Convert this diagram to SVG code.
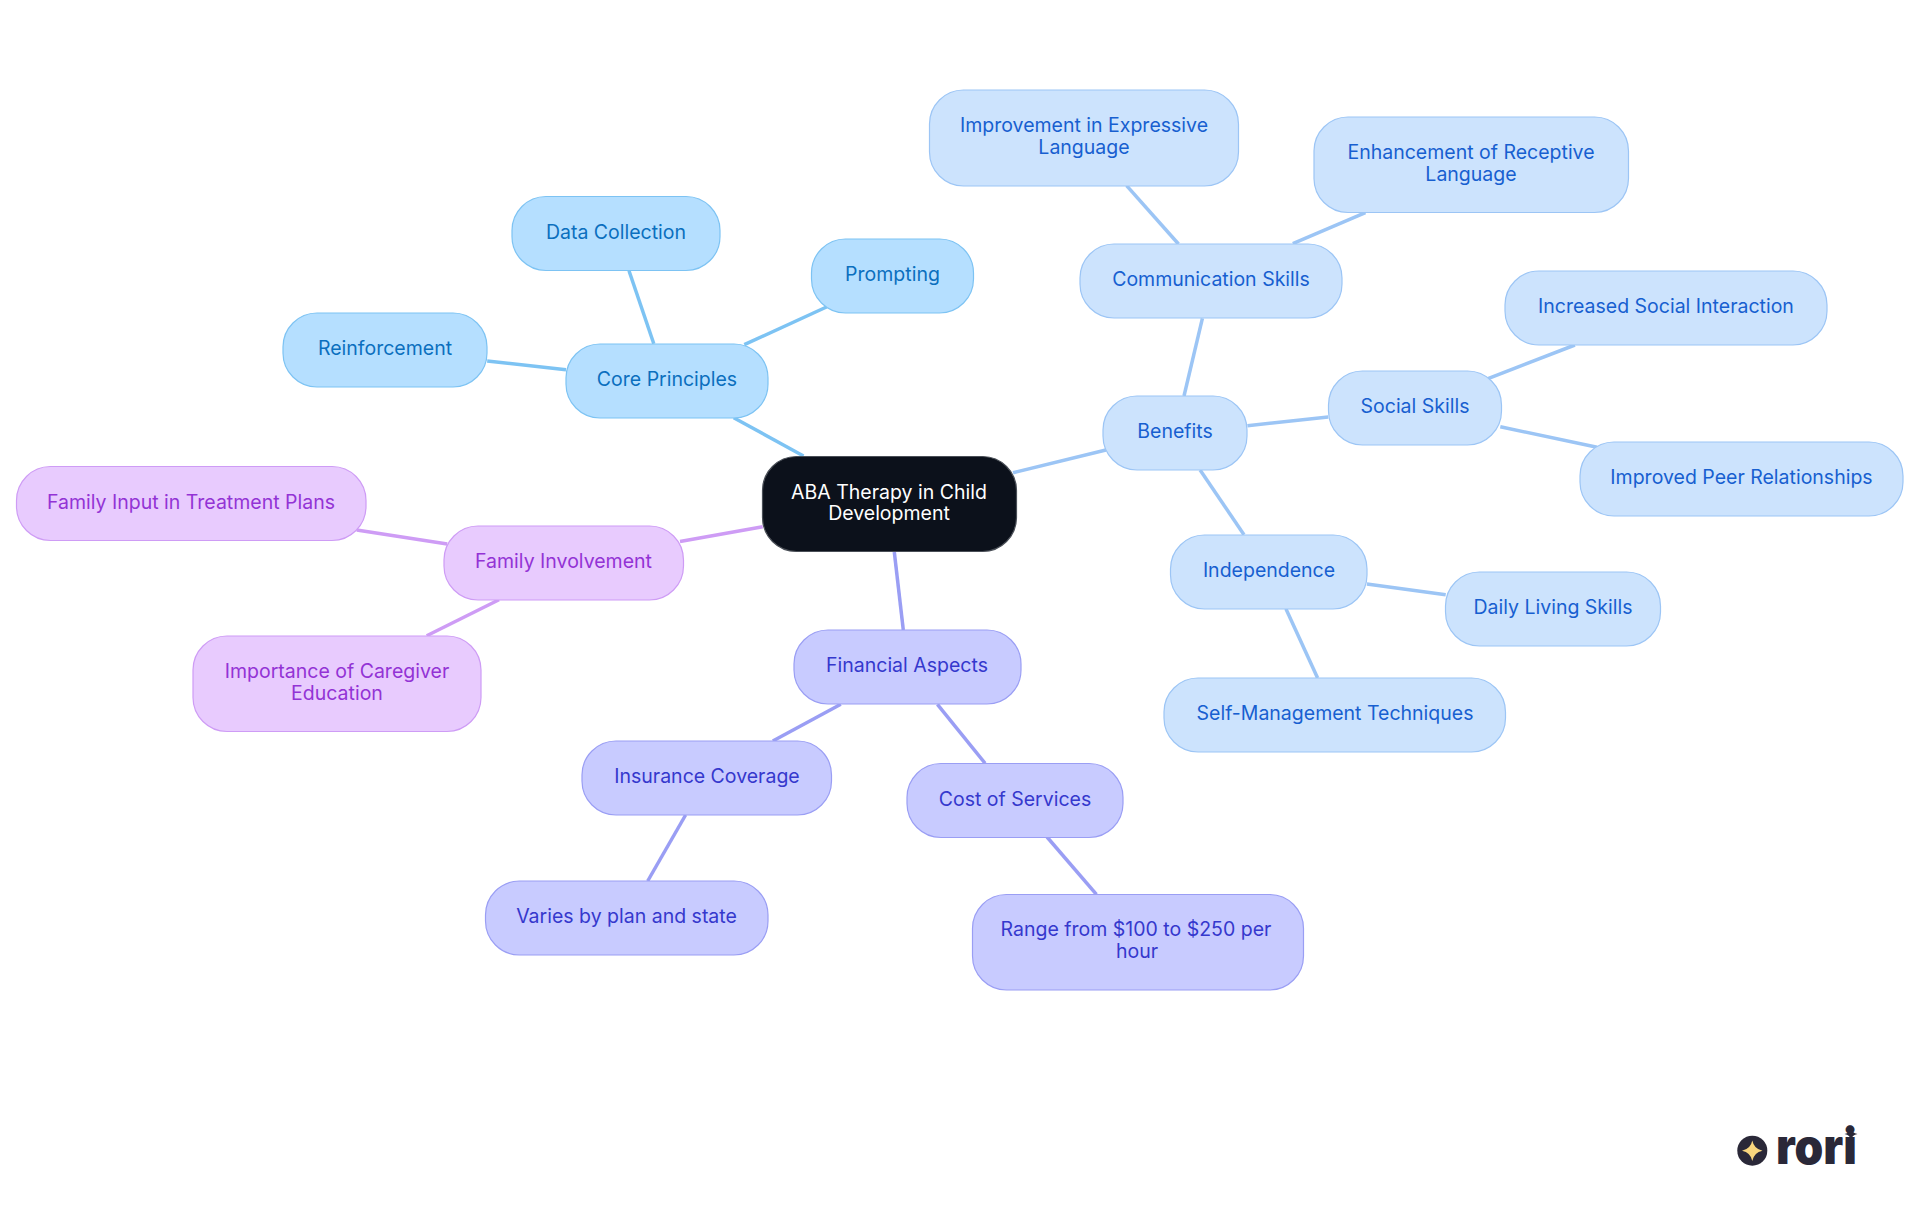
<svg xmlns="http://www.w3.org/2000/svg" width="1920" height="1215" viewBox="0 0 1920 1215">
<style>
text{font-family:"Inter","Noto Sans","Liberation Sans",sans-serif;font-size:19.5px;text-anchor:middle}
.e{fill:none;stroke-width:3.5;stroke-linecap:butt}
.n rect{stroke-width:1.2}
.c0 rect{fill:#B5DFFF;stroke:#7DC3F3}.c0 text{fill:#0B6FBE}
.c1 rect{fill:#CCE3FD;stroke:#9CC5F5}.c1 text{fill:#175FD0}
.c2 rect{fill:#C8CBFF;stroke:#9A9EF4}.c2 text{fill:#3538CD}
.c3 rect{fill:#E8CBFE;stroke:#CE9CF5}.c3 text{fill:#9333D5}
.e0{stroke:#7DC3F3}.e1{stroke:#9CC5F5}.e2{stroke:#9A9EF4}.e3{stroke:#CE9CF5}
</style>
<rect width="1920" height="1215" fill="#fff"/>
<g id="connectors">
<path class="e e0" d="M733.7 417.7L803.5 456"/>
<path class="e e0" d="M629 270.7L653.8 343.7"/>
<path class="e e0" d="M826.5 307L744.3 344.7"/>
<path class="e e0" d="M487.2 361L566 369.7"/>
<path class="e e1" d="M1013 472.7L1105.9 450"/>
<path class="e e1" d="M1126.6 185.7L1178.5 244"/>
<path class="e e1" d="M1365.4 212.7L1292.8 243.7"/>
<path class="e e1" d="M1202.4 318.3L1184 396"/>
<path class="e e1" d="M1247.4 425.7L1328.2 417"/>
<path class="e e1" d="M1574.9 345L1488 378.7"/>
<path class="e e1" d="M1500.3 426.7L1597.1 447.3"/>
<path class="e e1" d="M1200.1 470L1244 534.7"/>
<path class="e e1" d="M1366.9 584L1445.7 594.7"/>
<path class="e e1" d="M1285.9 608.7L1317.6 678"/>
<path class="e e2" d="M894.3 552L903.3 630"/>
<path class="e e2" d="M840.8 704.3L772.8 741"/>
<path class="e e2" d="M937.4 704.3L985.1 763.3"/>
<path class="e e2" d="M685.6 815L647.7 881"/>
<path class="e e2" d="M1047 837L1096.4 894.3"/>
<path class="e e3" d="M762.7 526.7L680 541.5"/>
<path class="e e3" d="M356.7 530L447.3 544"/>
<path class="e e3" d="M499 599.7L426.7 635.7"/>
</g>
<g id="root" class="n"><rect x="762.5" y="456.5" width="254" height="95" rx="34" fill="#0C111B" stroke="#4A4F57"/><text x="889" y="498.5" fill="#fff">ABA Therapy in Child</text><text x="889" y="519.8" fill="#fff">Development</text></g>
<g id="core-principles" class="n c0"><rect x="566" y="344" width="202" height="74" rx="34"/><text x="667" y="386">Core Principles</text></g>
<g id="data-collection" class="n c0"><rect x="512" y="196.5" width="208" height="74" rx="34"/><text x="616" y="238.7">Data Collection</text></g>
<g id="prompting" class="n c0"><rect x="811.5" y="239" width="162" height="74" rx="34"/><text x="892.5" y="281">Prompting</text></g>
<g id="reinforcement" class="n c0"><rect x="283" y="313" width="204" height="74" rx="34"/><text x="385" y="355">Reinforcement</text></g>
<g id="benefits" class="n c1"><rect x="1103" y="396" width="144" height="74" rx="34"/><text x="1175" y="438">Benefits</text></g>
<g id="communication-skills" class="n c1"><rect x="1080" y="244" width="262" height="74" rx="34"/><text x="1211" y="286">Communication Skills</text></g>
<g id="improvement-expressive" class="n c1"><rect x="929.5" y="90" width="309" height="96" rx="34"/><text x="1084" y="132.3">Improvement in Expressive</text><text x="1084" y="154.3">Language</text></g>
<g id="enhancement-receptive" class="n c1"><rect x="1314" y="117" width="314.5" height="95.5" rx="34"/><text x="1471" y="158.8">Enhancement of Receptive</text><text x="1471" y="180.8">Language</text></g>
<g id="social-skills" class="n c1"><rect x="1328.5" y="371" width="173" height="74" rx="34"/><text x="1415" y="413">Social Skills</text></g>
<g id="increased-social" class="n c1"><rect x="1505" y="271" width="322" height="74" rx="34"/><text x="1666" y="313">Increased Social Interaction</text></g>
<g id="improved-peer" class="n c1"><rect x="1580" y="442" width="323" height="74" rx="34"/><text x="1741.5" y="484">Improved Peer Relationships</text></g>
<g id="independence" class="n c1"><rect x="1170.5" y="535" width="196.5" height="74" rx="34"/><text x="1269" y="577">Independence</text></g>
<g id="daily-living" class="n c1"><rect x="1445.5" y="572" width="215" height="74" rx="34"/><text x="1553" y="614">Daily Living Skills</text></g>
<g id="self-management" class="n c1"><rect x="1164" y="678" width="341.5" height="74" rx="34"/><text x="1335" y="720">Self-Management Techniques</text></g>
<g id="financial-aspects" class="n c2"><rect x="794" y="630" width="227" height="74" rx="34"/><text x="907" y="672">Financial Aspects</text></g>
<g id="insurance-coverage" class="n c2"><rect x="582" y="741" width="249.5" height="74" rx="34"/><text x="707" y="783">Insurance Coverage</text></g>
<g id="varies" class="n c2"><rect x="485.5" y="881" width="282.5" height="74" rx="34"/><text x="626.5" y="923">Varies by plan and state</text></g>
<g id="cost-services" class="n c2"><rect x="907" y="763.5" width="216" height="74" rx="34"/><text x="1015" y="805.5">Cost of Services</text></g>
<g id="range" class="n c2"><rect x="972.5" y="894.5" width="331" height="95.5" rx="34"/><text x="1136" y="936">Range from $100 to $250 per</text><text x="1137" y="958">hour</text></g>
<g id="family-involvement" class="n c3"><rect x="444" y="526" width="239.5" height="74" rx="34"/><text x="563.5" y="568">Family Involvement</text></g>
<g id="family-input" class="n c3"><rect x="16.5" y="466.5" width="349.5" height="74" rx="34"/><text x="191" y="508.7">Family Input in Treatment Plans</text></g>
<g id="caregiver-education" class="n c3"><rect x="193" y="636" width="288" height="95.5" rx="34"/><text x="337" y="678">Importance of Caregiver</text><text x="337" y="700">Education</text></g>
<g id="logo">
<circle cx="1752.3" cy="1150.7" r="15" fill="#2A2838"/>
<path d="M1752.3 1140.5Q1754 1149 1762.5 1150.7Q1754 1152.4 1752.3 1161Q1750.6 1152.4 1742 1150.7Q1750.6 1149 1752.3 1140.5Z" fill="#F9D67E"/>
<text x="1816.5" y="1164" textLength="81" lengthAdjust="spacingAndGlyphs" style="font-family:'Inter',sans-serif;font-weight:900;font-size:49px" fill="#2A2838">rori</text>
<path d="M1851 1127.5Q1851.8 1133.2 1857.5 1134Q1851.8 1134.8 1851 1140.5Q1850.2 1134.8 1844.5 1134Q1850.2 1133.2 1851 1127.5Z" fill="#2A2838"/>
</g>
</svg>
